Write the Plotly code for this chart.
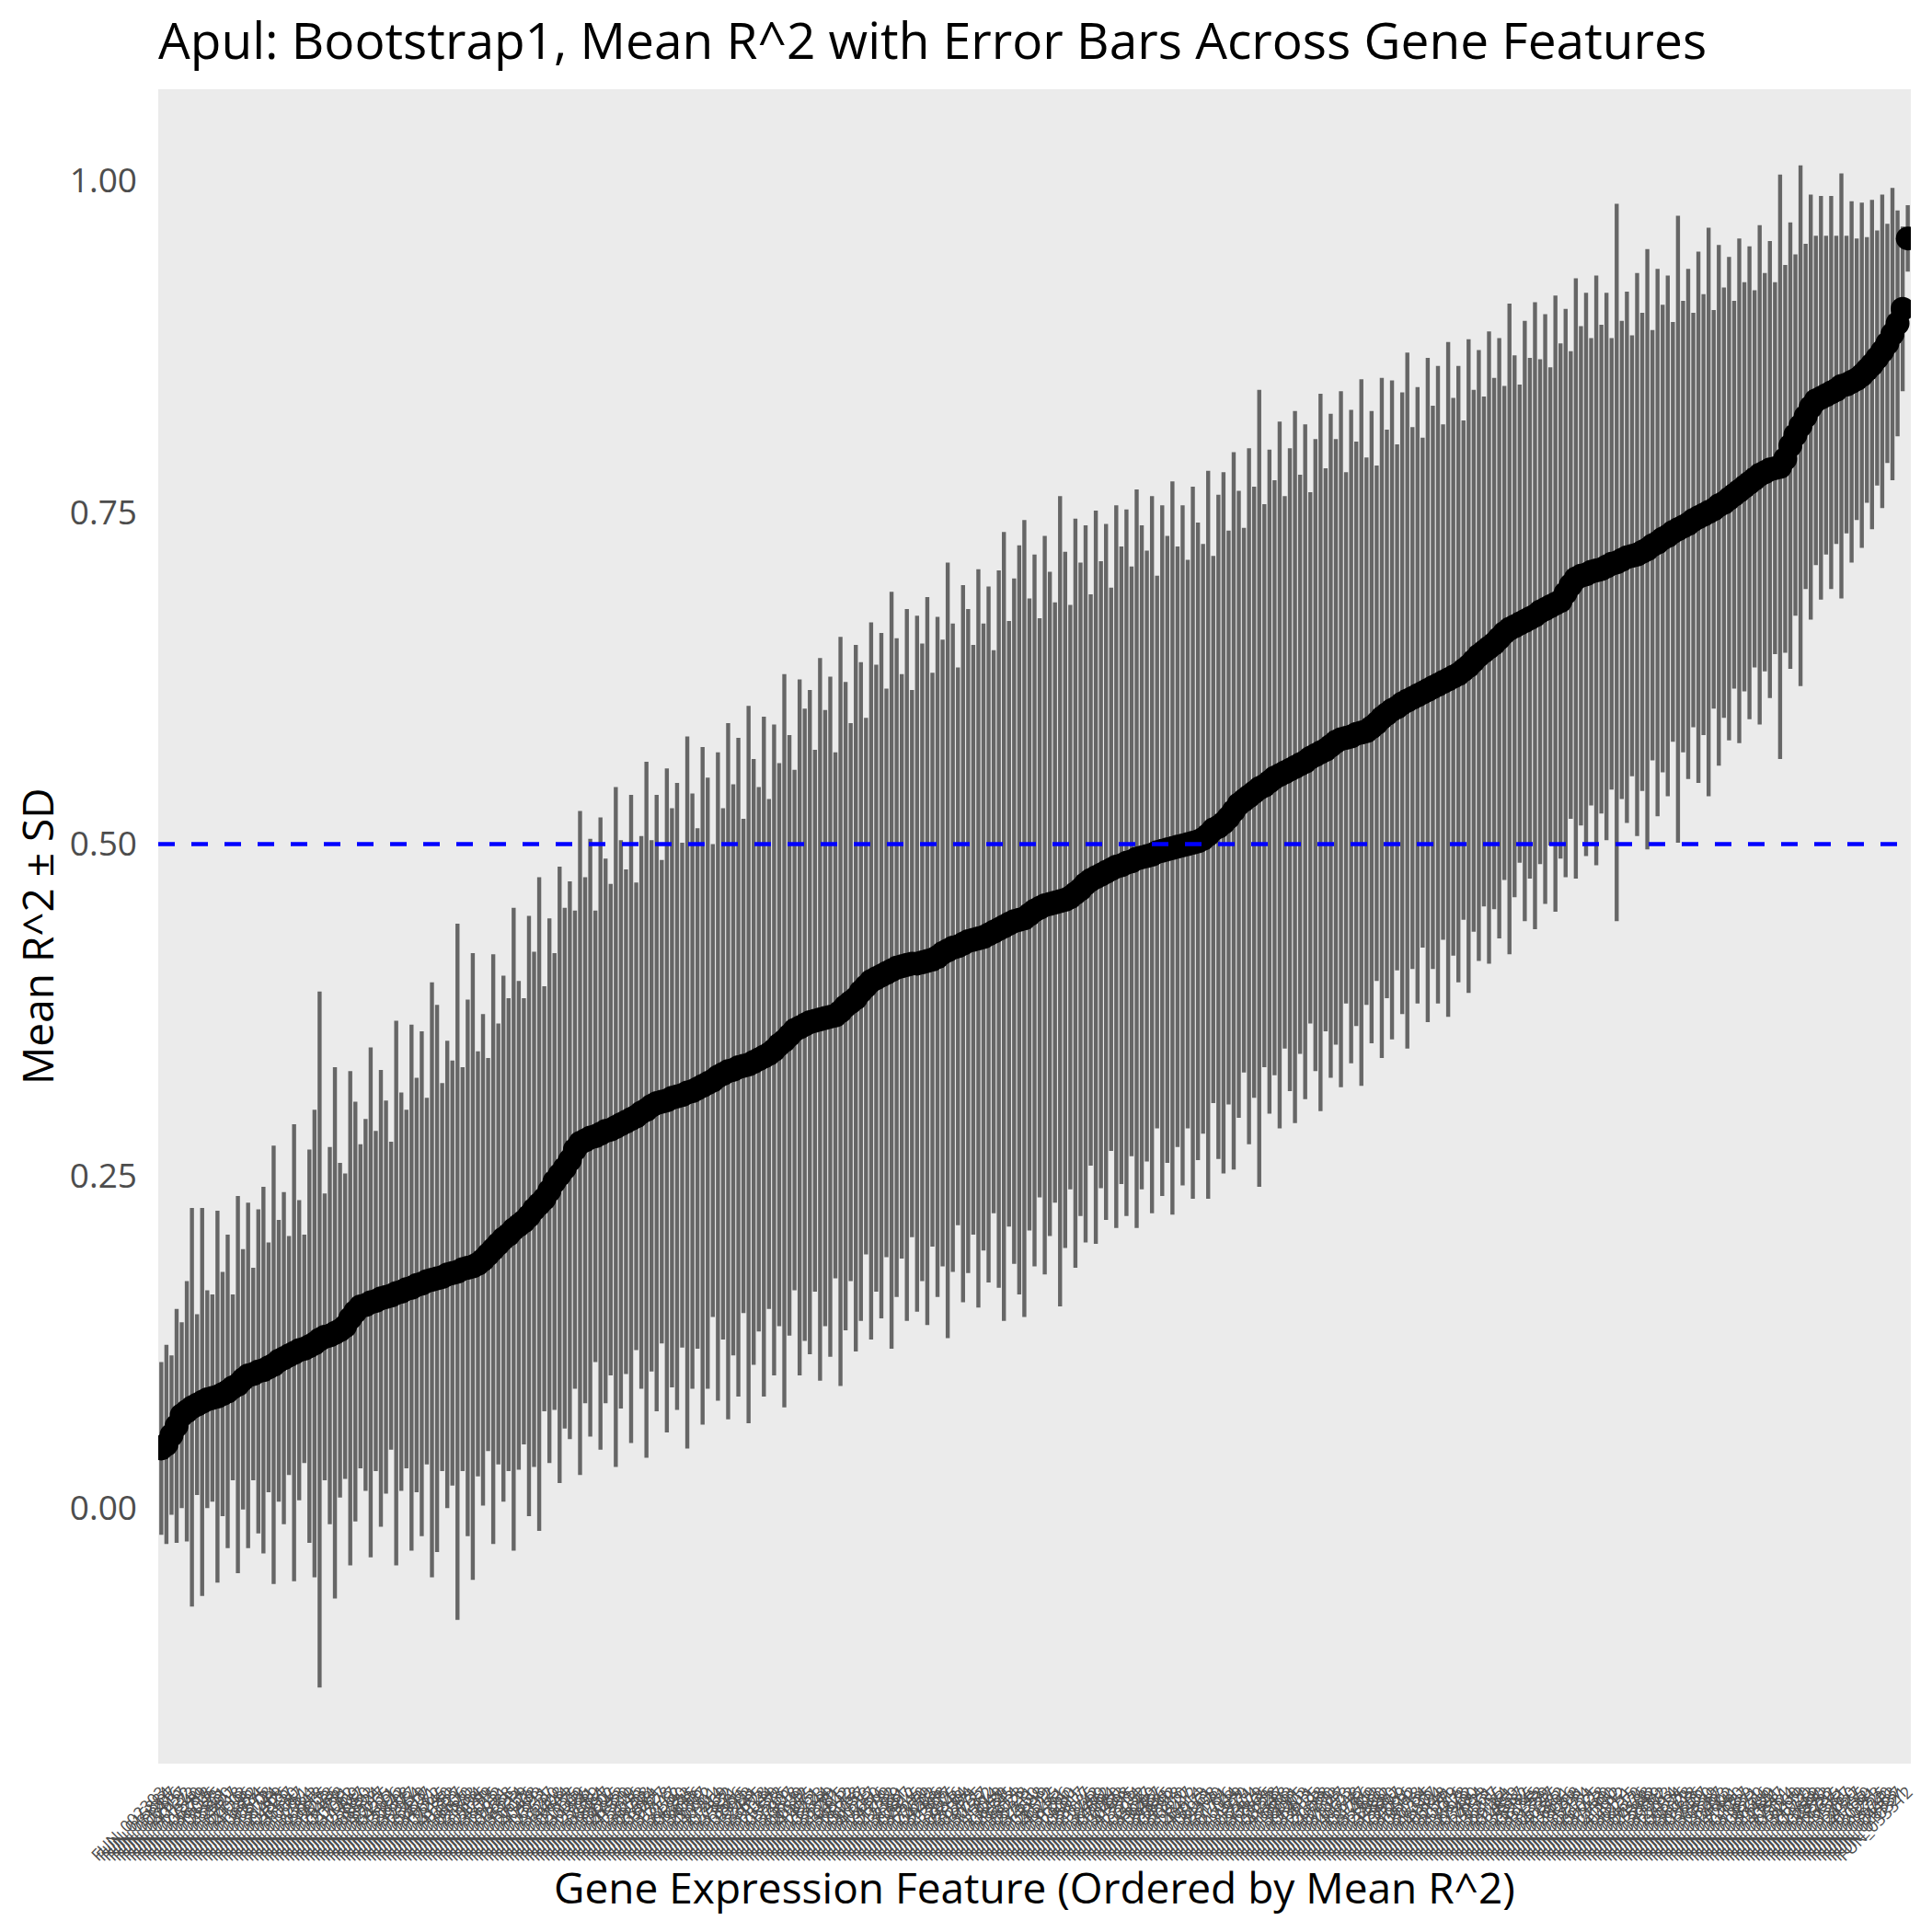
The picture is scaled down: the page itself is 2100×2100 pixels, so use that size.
import plotly.graph_objects as go

# ---- data (features ordered by mean R^2) ----
feature_ids = """
FUN_002303 FUN_015884 FUN_031207 FUN_008416 FUN_022957 FUN_040132 FUN_011673 FUN_027540 FUN_005289 FUN_036718
FUN_019046 FUN_003375 FUN_028861 FUN_012590 FUN_034427 FUN_007718 FUN_024003 FUN_041296 FUN_016352 FUN_009934
FUN_030575 FUN_013108 FUN_038744 FUN_021469 FUN_004826 FUN_026197 FUN_035530 FUN_010087 FUN_017751 FUN_032964
FUN_006642 FUN_023318 FUN_039905 FUN_014273 FUN_029486 FUN_001958 FUN_020731 FUN_037062 FUN_011409 FUN_025687
FUN_033150 FUN_008893 FUN_018524 FUN_042017 FUN_027265 FUN_004371 FUN_015096 FUN_030842 FUN_022608 FUN_039377
FUN_012954 FUN_026419 FUN_003807 FUN_034781 FUN_019662 FUN_007245 FUN_028130 FUN_041853 FUN_016027 FUN_036506
FUN_009570 FUN_021883 FUN_031694 FUN_005136 FUN_024259 FUN_038015 FUN_013742 FUN_029921 FUN_002688 FUN_018335
FUN_035214 FUN_010659 FUN_027076 FUN_040468 FUN_017893 FUN_006211 FUN_023537 FUN_032790 FUN_014408 FUN_039644
FUN_001532 FUN_020175 FUN_030009 FUN_011886 FUN_025741 FUN_037389 FUN_008064 FUN_018957 FUN_033602 FUN_004745
FUN_026883 FUN_041520 FUN_015319 FUN_022046 FUN_036153 FUN_009208 FUN_028594 FUN_003961 FUN_019427 FUN_031778
FUN_012117 FUN_038562 FUN_024790 FUN_006883 FUN_016645 FUN_034006 FUN_029307 FUN_010752 FUN_040901 FUN_021214
FUN_007469 FUN_027832 FUN_035871 FUN_013586 FUN_002915 FUN_019983 FUN_032441 FUN_023695 FUN_039128 FUN_011044
FUN_025330 FUN_005578 FUN_017266 FUN_037907 FUN_030618 FUN_008339 FUN_020542 FUN_041075 FUN_014961 FUN_028223
FUN_003644 FUN_033399 FUN_022781 FUN_010415 FUN_036842 FUN_018112 FUN_026968 FUN_006057 FUN_031513 FUN_040287
FUN_015650 FUN_024476 FUN_001299 FUN_029762 FUN_012389 FUN_038231 FUN_020897 FUN_007912 FUN_034545 FUN_017020
FUN_027659 FUN_004203 FUN_039466 FUN_021558 FUN_013977 FUN_032075 FUN_009846 FUN_025104 FUN_036394 FUN_002471
FUN_019735 FUN_030287 FUN_011562 FUN_041614 FUN_023049 FUN_006439 FUN_028745 FUN_016814 FUN_035023 FUN_008728
FUN_022311 FUN_037550 FUN_014688 FUN_003119 FUN_026512 FUN_040755 FUN_018461 FUN_031266 FUN_010280 FUN_029011
FUN_005917 FUN_033877 FUN_021035 FUN_012742 FUN_038409 FUN_024662 FUN_007094 FUN_016980 FUN_030433 FUN_041998
FUN_013315 FUN_027204 FUN_002052 FUN_035647 FUN_019209 FUN_009487 FUN_039836 FUN_025865 FUN_004592 FUN_032318
FUN_020410 FUN_011227 FUN_028412 FUN_040014 FUN_015173 FUN_006961 FUN_034308 FUN_023170 FUN_037781 FUN_001776
FUN_026044 FUN_017539 FUN_031920 FUN_008571 FUN_022474 FUN_036979 FUN_012866 FUN_029555 FUN_003228 FUN_041347
FUN_018688 FUN_010903 FUN_038091 FUN_024905 FUN_005403 FUN_033011 FUN_014125 FUN_027398 FUN_020068 FUN_039290
FUN_007633 FUN_031047 FUN_016173 FUN_040622 FUN_025518 FUN_002787 FUN_021766 FUN_035409 FUN_011933 FUN_028990
FUN_034832 FUN_013880 FUN_023907 FUN_004069 FUN_037216 FUN_019582 FUN_009118 FUN_030764 FUN_026335 FUN_015507
FUN_041684 FUN_006148 FUN_032641 FUN_020779 FUN_012016 FUN_038878 FUN_027962 FUN_003490 FUN_017684 FUN_024123
FUN_010561 FUN_036237 FUN_022155 FUN_029184 FUN_001461 FUN_014859 FUN_039557 FUN_025982 FUN_008185 FUN_033745
FUN_019358 FUN_031359 FUN_005747 FUN_040375 FUN_023882 FUN_016501 FUN_028056 FUN_011298 FUN_035931 FUN_002134
FUN_026721 FUN_009025 FUN_037438 FUN_013460 FUN_021300 FUN_041152 FUN_004912 FUN_030151 FUN_018215 FUN_034670
FUN_007376 FUN_024588 FUN_015942 FUN_032889 FUN_039002 FUN_012263 FUN_027014 FUN_006594 FUN_020326 FUN_036028
FUN_029718 FUN_003856 FUN_017407 FUN_038330 FUN_010839 FUN_025267 FUN_033493 FUN_014602 FUN_041441 FUN_022890
FUN_001087 FUN_031633 FUN_019871 FUN_008250 FUN_036606 FUN_023459 FUN_012641 FUN_040847 FUN_027581 FUN_005024
FUN_016260 FUN_034119 FUN_021920 FUN_009733 FUN_029869 FUN_002590 FUN_038553 FUN_018782 FUN_026615 FUN_011581
FUN_035367 FUN_013050 FUN_024327 FUN_041755 FUN_007150 FUN_030991 FUN_020253 FUN_015725 FUN_039740 FUN_004463
FUN_028337 FUN_010321 FUN_033312
""".split()

mean_r2 = [
    0.045, 0.048, 0.055, 0.062, 0.070, 0.073, 0.076, 0.078, 0.080, 0.082,
    0.083, 0.084, 0.086, 0.088, 0.091, 0.093, 0.097, 0.100, 0.101, 0.103,
    0.104, 0.106, 0.108, 0.111, 0.113, 0.115, 0.117, 0.119, 0.120, 0.122,
    0.124, 0.127, 0.129, 0.130, 0.132, 0.134, 0.137, 0.143, 0.148, 0.152,
    0.153, 0.155, 0.156, 0.158, 0.159, 0.160, 0.162, 0.163, 0.165, 0.166,
    0.168, 0.169, 0.171, 0.172, 0.173, 0.174, 0.176, 0.177, 0.178, 0.180,
    0.181, 0.182, 0.184, 0.187, 0.191, 0.195, 0.199, 0.203, 0.206, 0.210,
    0.213, 0.216, 0.220, 0.225, 0.229, 0.233, 0.239, 0.246, 0.251, 0.256,
    0.262, 0.270, 0.275, 0.277, 0.279, 0.280, 0.282, 0.284, 0.285, 0.287,
    0.289, 0.291, 0.293, 0.295, 0.298, 0.300, 0.303, 0.305, 0.306, 0.307,
    0.309, 0.310, 0.311, 0.313, 0.314, 0.316, 0.318, 0.320, 0.322, 0.325,
    0.327, 0.329, 0.330, 0.332, 0.333, 0.334, 0.336, 0.338, 0.340, 0.342,
    0.345, 0.349, 0.352, 0.356, 0.360, 0.362, 0.364, 0.366, 0.367, 0.368,
    0.369, 0.370, 0.371, 0.374, 0.378, 0.381, 0.384, 0.389, 0.393, 0.397,
    0.399, 0.401, 0.403, 0.405, 0.407, 0.408, 0.409, 0.410, 0.410, 0.411,
    0.412, 0.413, 0.415, 0.418, 0.420, 0.422, 0.423, 0.425, 0.427, 0.428,
    0.429, 0.430, 0.432, 0.434, 0.436, 0.438, 0.440, 0.442, 0.443, 0.444,
    0.447, 0.450, 0.452, 0.454, 0.455, 0.456, 0.457, 0.458, 0.460, 0.463,
    0.466, 0.470, 0.473, 0.475, 0.477, 0.479, 0.481, 0.483, 0.484, 0.486,
    0.487, 0.489, 0.490, 0.491, 0.492, 0.494, 0.495, 0.496, 0.497, 0.498,
    0.499, 0.500, 0.501, 0.502, 0.504, 0.507, 0.511, 0.513, 0.516, 0.520,
    0.525, 0.530, 0.533, 0.536, 0.539, 0.542, 0.544, 0.547, 0.550, 0.552,
    0.554, 0.556, 0.558, 0.560, 0.562, 0.565, 0.567, 0.569, 0.571, 0.574,
    0.577, 0.579, 0.580, 0.581, 0.583, 0.584, 0.585, 0.588, 0.591, 0.595,
    0.598, 0.601, 0.603, 0.606, 0.608, 0.610, 0.612, 0.614, 0.616, 0.618,
    0.620, 0.622, 0.624, 0.626, 0.628, 0.631, 0.634, 0.638, 0.642, 0.645,
    0.648, 0.651, 0.655, 0.659, 0.662, 0.664, 0.666, 0.668, 0.670, 0.672,
    0.675, 0.677, 0.679, 0.681, 0.683, 0.689, 0.695, 0.700, 0.702, 0.703,
    0.705, 0.706, 0.707, 0.709, 0.711, 0.712, 0.714, 0.716, 0.717, 0.718,
    0.720, 0.722, 0.725, 0.727, 0.730, 0.732, 0.735, 0.737, 0.739, 0.741,
    0.744, 0.746, 0.748, 0.750, 0.752, 0.755, 0.757, 0.760, 0.763, 0.766,
    0.769, 0.772, 0.775, 0.778, 0.780, 0.782, 0.783, 0.784, 0.790, 0.800,
    0.808, 0.815, 0.822, 0.829, 0.834, 0.836, 0.838, 0.840, 0.842, 0.845,
    0.846, 0.848, 0.850, 0.853, 0.857, 0.861, 0.866, 0.871, 0.877, 0.884,
    0.892, 0.903, 0.956,
]

sd_r2 = [
    0.065, 0.075, 0.060, 0.088, 0.070, 0.098, 0.150, 0.068, 0.146, 0.082,
    0.078, 0.140, 0.092, 0.118, 0.070, 0.142, 0.098, 0.130, 0.080, 0.122,
    0.138, 0.094, 0.165, 0.106, 0.125, 0.090, 0.172, 0.113, 0.086, 0.148,
    0.176, 0.262, 0.108, 0.142, 0.200, 0.126, 0.115, 0.186, 0.158, 0.122,
    0.140, 0.192, 0.128, 0.172, 0.148, 0.116, 0.205, 0.150, 0.135, 0.198,
    0.156, 0.190, 0.138, 0.224, 0.206, 0.146, 0.176, 0.160, 0.262, 0.152,
    0.202, 0.236, 0.160, 0.185, 0.148, 0.222, 0.166, 0.198, 0.178, 0.242,
    0.184, 0.168, 0.226, 0.194, 0.246, 0.160, 0.205, 0.172, 0.232, 0.196,
    0.210, 0.180, 0.250, 0.198, 0.225, 0.170, 0.238, 0.205, 0.185, 0.256,
    0.214, 0.190, 0.244, 0.176, 0.208, 0.262, 0.200, 0.232, 0.182, 0.250,
    0.218, 0.236, 0.190, 0.268, 0.224, 0.196, 0.255, 0.230, 0.178, 0.244,
    0.200, 0.262, 0.215, 0.248, 0.186, 0.270, 0.228, 0.205, 0.256, 0.192,
    0.245, 0.212, 0.276, 0.226, 0.196, 0.262, 0.238, 0.250, 0.204, 0.272,
    0.232, 0.256, 0.198, 0.282, 0.244, 0.210, 0.266, 0.248, 0.202, 0.270,
    0.236, 0.258, 0.214, 0.285, 0.248, 0.220, 0.268, 0.206, 0.262, 0.240,
    0.274, 0.216, 0.256, 0.236, 0.292, 0.244, 0.210, 0.270, 0.250, 0.222,
    0.278, 0.236, 0.262, 0.212, 0.270, 0.297, 0.228, 0.258, 0.282, 0.300,
    0.238, 0.268, 0.218, 0.278, 0.250, 0.226, 0.305, 0.262, 0.220, 0.282,
    0.246, 0.270, 0.215, 0.276, 0.236, 0.262, 0.212, 0.272, 0.240, 0.266,
    0.222, 0.278, 0.250, 0.230, 0.270, 0.208, 0.260, 0.236, 0.276, 0.226,
    0.256, 0.214, 0.268, 0.240, 0.222, 0.274, 0.206, 0.250, 0.264, 0.216,
    0.270, 0.236, 0.205, 0.262, 0.230, 0.300, 0.212, 0.250, 0.224, 0.266,
    0.208, 0.242, 0.268, 0.218, 0.254, 0.200, 0.238, 0.270, 0.212, 0.250,
    0.228, 0.262, 0.200, 0.246, 0.220, 0.266, 0.206, 0.238, 0.194, 0.256,
    0.214, 0.248, 0.198, 0.234, 0.262, 0.204, 0.232, 0.192, 0.250, 0.212,
    0.240, 0.194, 0.254, 0.210, 0.232, 0.188, 0.246, 0.204, 0.230, 0.192,
    0.238, 0.200, 0.226, 0.186, 0.245, 0.204, 0.180, 0.226, 0.196, 0.236,
    0.190, 0.222, 0.180, 0.232, 0.194, 0.214, 0.176, 0.226, 0.188, 0.212,
    0.176, 0.222, 0.184, 0.206, 0.170, 0.270, 0.180, 0.200, 0.166, 0.212,
    0.180, 0.226, 0.162, 0.206, 0.176, 0.196, 0.158, 0.236, 0.170, 0.192,
    0.156, 0.200, 0.166, 0.214, 0.150, 0.196, 0.162, 0.182, 0.146, 0.190,
    0.154, 0.178, 0.142, 0.188, 0.150, 0.172, 0.140, 0.220, 0.146, 0.168,
    0.136, 0.196, 0.130, 0.160, 0.124, 0.152, 0.120, 0.148, 0.116, 0.160,
    0.112, 0.136, 0.106, 0.130, 0.100, 0.124, 0.096, 0.118, 0.090, 0.110,
    0.085, 0.062, 0.025,
]

y_ticks = [0.0, 0.25, 0.5, 0.75, 1.0]
y_tick_labels = ["0.00", "0.25", "0.50", "0.75", "1.00"]
threshold = 0.5

title_text = "Apul: Bootstrap1, Mean R^2 with Error Bars Across Gene Features"
x_title = "Gene Expression Feature (Ordered by Mean R^2)"
y_title = "Mean R^2 \u00b1 SD"

# ---- figure ----
# the page body adds an 8 px offset, so margins are shifted to compensate
OFF = 8
W, H = 2100, 2100
L, R, T, B = 172 - OFF, 23 + OFF, 97 - OFF, 183 + OFF
n = len(feature_ids)
positions = list(range(n))

lo = min(m - s for m, s in zip(mean_r2, sd_r2))
hi = max(m + s for m, s in zip(mean_r2, sd_r2))
pad = 0.05 * (hi - lo)

fig = go.Figure()
fig.add_trace(go.Scatter(
    x=positions, y=mean_r2, mode="markers",
    marker=dict(size=1, color="rgba(0,0,0,0)"),
    error_y=dict(type="data", array=sd_r2, symmetric=True,
                 color="#666666", thickness=4.4, width=0),
    hoverinfo="skip", showlegend=False,
))
fig.add_trace(go.Scatter(
    x=positions, y=mean_r2, mode="markers",
    marker=dict(size=26, color="black", line=dict(width=0)),
    showlegend=False,
))

fig.add_shape(type="line", xref="x domain", yref="y", x0=0, x1=1,
              y0=threshold, y1=threshold, layer="above",
              line=dict(color="#0000FF", width=4.5, dash="18px,18px"))

plot_h = H - T - B
plot_w = W - L - R

fig.update_layout(
    width=W, height=H,
    margin=dict(l=L, r=R, t=T, b=B, autoexpand=False),
    paper_bgcolor="white", plot_bgcolor="#EBEBEB",
    font=dict(family="Open Sans", color="black"),
    title=dict(text=title_text, x=L / W, xanchor="left", xref="container",
               y=1 - (45 - OFF) / H, yanchor="middle", yref="container",
               font=dict(size=55, color="black")),
    showlegend=False,
)
fig.update_xaxes(
    range=[-0.6, n - 0.4],
    tickmode="array", tickvals=positions, ticktext=feature_ids,
    tickangle=-45, tickfont=dict(size=18, color="#4D4D4D"),
    ticks="", showgrid=False, zeroline=False, showline=False,
    ticklabelstandoff=16,
)
fig.update_yaxes(
    range=[lo - pad, hi + pad],
    tickmode="array", tickvals=y_ticks, ticktext=y_tick_labels,
    tickfont=dict(size=37, color="#4D4D4D"),
    ticks="", showgrid=False, zeroline=False, showline=False,
    ticklabelstandoff=22,
)

fig.add_annotation(text=x_title, xref="paper", yref="paper",
                   x=0.5, y=-(2051 - 1917) / plot_h,
                   xanchor="center", yanchor="middle", showarrow=False,
                   font=dict(size=46, color="black"))
fig.add_annotation(text=y_title, xref="paper", yref="paper",
                   x=-(172 - 40) / plot_w, y=1 - (1018 - 97) / plot_h,
                   xanchor="center", yanchor="middle", textangle=-90,
                   showarrow=False, font=dict(size=46, color="black"))

fig.write_html("out.html")
